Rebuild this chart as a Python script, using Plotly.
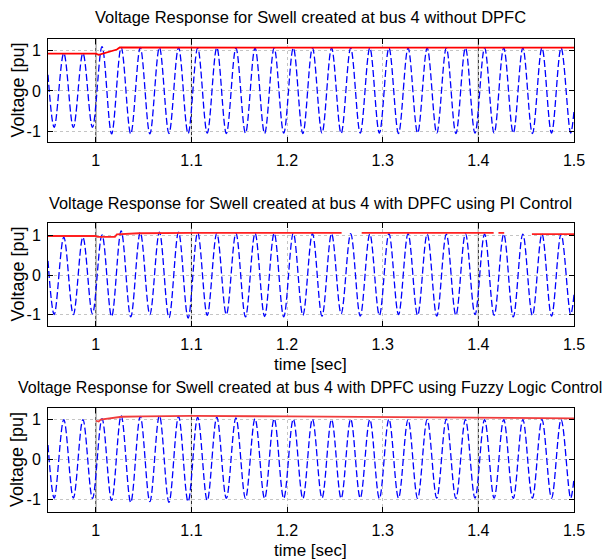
import plotly.graph_objects as go

# ---------------- data ----------------
# key times: start, alternating trough/peak extrema of the 50 Hz wave, end
t_key = [0.95,
         0.9565, 0.9665, 0.9765, 0.9865, 0.9965, 1.0065, 1.0165, 1.0265, 1.0365, 1.0465,
         1.0565, 1.0665, 1.0765, 1.0865, 1.0965, 1.1065, 1.1165, 1.1265, 1.1365, 1.1465,
         1.1565, 1.1665, 1.1765, 1.1865, 1.1965, 1.2065, 1.2165, 1.2265, 1.2365, 1.2465,
         1.2565, 1.2665, 1.2765, 1.2865, 1.2965, 1.3065, 1.3165, 1.3265, 1.3365, 1.3465,
         1.3565, 1.3665, 1.3765, 1.3865, 1.3965, 1.4065, 1.4165, 1.4265, 1.4365, 1.4465,
         1.4565, 1.4665, 1.4765, 1.4865, 1.4965,
         1.5]

# Plot 1: without DPFC
start1, end1 = 0.40, -0.50
troughs1 = [-0.90, -0.90, -0.90, -1.06, -1.06, -1.06, -1.05, -1.05, -1.04, -1.05,
            -1.04, -1.05, -1.04, -1.05, -1.04, -1.05, -1.04, -1.04, -1.05, -1.04,
            -1.04, -1.05, -1.04, -1.04, -1.04, -1.05, -1.04, -1.04]
peaks1 = [0.93, 0.93, 1.09, 1.07, 1.07, 1.07, 1.07, 1.06, 1.07, 1.06,
          1.06, 1.06, 1.06, 1.06, 1.06, 1.06, 1.06, 1.06, 1.06, 1.06,
          1.06, 1.06, 1.06, 1.06, 1.06, 1.06, 1.06]
red1_t = [0.95, 1.0, 1.003, 1.012, 1.022, 1.025, 1.2, 1.5]
red1_v = [0.92, 0.92, 0.89, 0.95, 1.02, 1.07, 1.07, 1.065]

# Plot 2: with DPFC using PI control
start2, end2 = 0.36, -0.50
troughs2 = [-1.00, -1.00, -0.98, -1.05, -1.06, -1.00, -1.08, -1.09, -1.02, -1.00,
            -1.06, -1.05, -1.06, -1.02, -1.04, -0.98, -1.04, -1.02, -1.00, -1.02,
            -1.04, -1.02, -1.00, -1.02, -1.06, -1.02, -1.04, -1.00]
peaks2 = [0.96, 0.96, 1.02, 1.12, 1.08, 1.09, 1.09, 1.08, 1.06, 1.06,
          1.06, 1.06, 1.06, 1.05, 1.05, 1.05, 1.04, 1.05, 1.05, 1.04,
          1.04, 1.05, 1.04, 1.04, 1.04, 1.04, 1.04]
red2_t = [0.95, 1.0, 1.002, 1.02, 1.022, 1.045, 1.1, 1.257, None, 1.278, 1.416, None,
          1.421, 1.427, None, 1.456, 1.5]
red2_v = [0.99, 0.99, 0.97, 0.97, 1.03, 1.06, 1.07, 1.07, None, 1.07, 1.07, None,
          1.07, 1.07, None, 1.04, 1.04]

# Plot 3: with DPFC using Fuzzy Logic control
start3, end3 = 0.36, -0.48
troughs3 = [-0.97, -0.97, -0.98, -1.03, -1.08, -1.06, -1.08, -1.06, -1.03, -0.98,
            -0.98, -0.98, -0.98, -0.98, -0.97, -0.98, -0.97, -0.98, -0.97, -0.98,
            -0.97, -0.98, -0.97, -0.97, -0.98, -0.97, -0.97, -0.97]
peaks3 = [1.00, 1.00, 1.02, 1.10, 1.08, 1.10, 1.08, 1.06, 1.06, 1.04,
          1.02, 1.02, 1.01, 1.01, 1.00, 1.01, 1.00, 1.01, 1.00, 1.00,
          1.01, 1.00, 1.00, 1.00, 1.00, 1.00, 1.00]
red3_t = [1.0, 1.003, 1.005, 1.015, 1.027, 1.05, 1.1, 1.2, 1.35, 1.5]
red3_v = [0.97, 0.95, 1.00, 1.03, 1.07, 1.08, 1.09, 1.08, 1.06, 1.03]

titles = ["Voltage Response for Swell created at bus 4 without DPFC",
          "Voltage Response for Swell created at bus 4 with DPFC using PI Control",
          "Voltage Response for Swell created at bus 4 with DPFC using Fuzzy Logic Control"]
x_tickvals = [1, 1.1, 1.2, 1.3, 1.4, 1.5]
x_ticktext = ["1", "1.1", "1.2", "1.3", "1.4", "1.5"]
y_tickvals = [-1, 0, 1]
y_ticktext = ["-1", "0", "1"]
dark_grid_x = [1, 1.1, 1.4]


def wave(start, troughs, peaks, end):
    vals = [start]
    for i in range(len(troughs)):
        vals.append(troughs[i])
        if i < len(peaks):
            vals.append(peaks[i])
    vals.append(end)
    return vals


# the page body has an 8px margin: the figure is drawn at (8, 8) in the window
OFF = 8
W, H = 613 - OFF, 559 - OFF
FONT = "Liberation Sans, Arial, Helvetica, sans-serif"


def px(x):
    return (x - OFF) / W


def py(y):
    return 1 - (y - OFF) / H


panels = [
    dict(start=start1, tr=troughs1, pk=peaks1, end=end1, rt=red1_t, rv=red1_v,
         top=39, bot=142, yr=[-1.26, 1.28], red="#ff0000", xlabel=False,
         title_y=17, title_size=16.5),
    dict(start=start2, tr=troughs2, pk=peaks2, end=end2, rt=red2_t, rv=red2_v,
         top=223, bot=326, yr=[-1.29, 1.32], red="#ff2020", xlabel=True,
         title_y=203, title_size=16.3),
    dict(start=start3, tr=troughs3, pk=peaks3, end=end3, rt=red3_t, rv=red3_v,
         top=408, bot=512, yr=[-1.32, 1.29], red="#f03c3c", xlabel=True,
         title_y=387, title_size=16.0),
]

fig = go.Figure()
x0p, x1p = 48, 574
annotations = []
shapes = []

for i, p in enumerate(panels):
    n = "" if i == 0 else str(i + 1)
    xa, ya = "x" + n, "y" + n
    fig.add_trace(go.Scatter(
        x=t_key, y=wave(p["start"], p["tr"], p["pk"], p["end"]),
        xaxis=xa, yaxis=ya, mode="lines",
        line=dict(color="#0000ff", width=1.3, dash="7px,3px", shape="spline", smoothing=1.0),
        showlegend=False, hoverinfo="skip"))
    fig.add_trace(go.Scatter(
        x=p["rt"], y=p["rv"], xaxis=xa, yaxis=ya, mode="lines",
        line=dict(color=p["red"], width=1.8), connectgaps=False,
        showlegend=False, hoverinfo="skip"))

    ydom = [py(p["bot"]), py(p["top"])]
    axis_common = dict(showline=True, linecolor="black", linewidth=1, mirror="ticks",
                       ticks="inside", ticklen=5, tickcolor="black", automargin=False,
                       showgrid=True, gridcolor="#c4c4c4", griddash="dot", gridwidth=1,
                       zeroline=False, tickfont=dict(family=FONT, size=16, color="black"))
    fig.update_layout(**{
        "xaxis" + n: dict(domain=[px(x0p), px(x1p)], range=[0.95, 1.5], anchor=ya,
                          tickvals=x_tickvals, ticktext=x_ticktext,
                          ticklabelstandoff=4, **axis_common),
        "yaxis" + n: dict(domain=ydom, range=p["yr"], anchor=xa,
                          tickvals=y_tickvals, ticktext=y_ticktext,
                          ticklabelstandoff=3, **axis_common),
    })
    for gx in dark_grid_x:
        shapes.append(dict(type="line", xref=xa, yref=ya + " domain", x0=gx, x1=gx, y0=0, y1=1,
                           line=dict(color="#222222", width=1), layer="below"))
    annotations.append(dict(text=titles[i], x=px(310), y=py(p["title_y"]),
                            xref="paper", yref="paper", showarrow=False,
                            xanchor="center", yanchor="middle",
                            font=dict(family=FONT, size=p["title_size"], color="black")))
    annotations.append(dict(text="Voltage [pu]", x=px(17), y=py((p["top"] + p["bot"]) / 2),
                            xref="paper", yref="paper", showarrow=False, textangle=-90,
                            xanchor="center", yanchor="middle",
                            font=dict(family=FONT, size=18, color="black")))
    if p["xlabel"]:
        annotations.append(dict(text="time [sec]", x=px(310), y=py(p["bot"] + 38),
                                xref="paper", yref="paper", showarrow=False,
                                xanchor="center", yanchor="middle",
                                font=dict(family=FONT, size=17, color="black")))

fig.update_layout(width=W, height=H, margin=dict(l=0, r=0, t=0, b=0, autoexpand=False),
                  paper_bgcolor="white", plot_bgcolor="white",
                  annotations=annotations, shapes=shapes, showlegend=False)

fig.write_html("out.html")
